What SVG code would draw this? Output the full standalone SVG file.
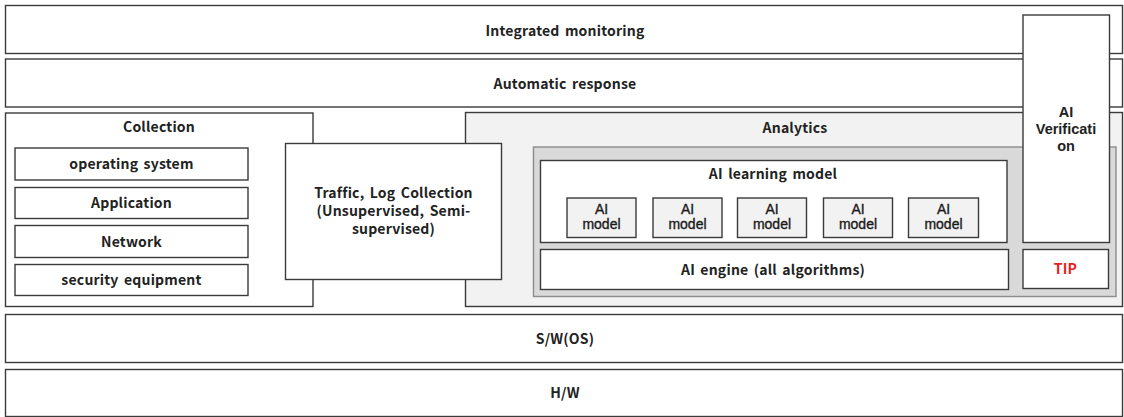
<svg xmlns="http://www.w3.org/2000/svg" width="1124" height="417" viewBox="0 0 1124 417">
  <style>
    .box { fill: #ffffff; stroke: #3a3a3a; stroke-width: 1.4; }
    .shade { fill: #f2f2f2; stroke: #3a3a3a; stroke-width: 1.4; }
    .tray { fill: #d9d9d9; stroke: #8c8c8c; stroke-width: 1.4; }
    .lbl { font-family: "Noto Sans CJK KR", "Noto Sans", "Liberation Sans", sans-serif; font-size: 14px; font-weight: bold; fill: #222222; text-anchor: middle; letter-spacing: 0.2px; word-spacing: 2px; }
    .mdl { font-family: "Liberation Sans", Arial, sans-serif; font-size: 14px; font-weight: normal; fill: #1a1a1a; stroke: #1a1a1a; stroke-width: 0.35; text-anchor: middle; }
    .ver { font-family: "Liberation Sans", Arial, sans-serif; font-size: 14.5px; font-weight: bold; fill: #222222; text-anchor: middle; }
    .red { fill: #e81c1c; }
  </style>
  <rect width="1124" height="417" fill="#ffffff"/>

  <g id="integrated-monitoring">
    <rect class="box" x="5.5" y="5.5" width="1117" height="48"/>
    <text class="lbl" x="565" y="35.5">Integrated monitoring</text>
  </g>

  <g id="automatic-response">
    <rect class="box" x="5.5" y="59" width="1117" height="48"/>
    <text class="lbl" x="565" y="88.5">Automatic response</text>
  </g>

  <g id="collection">
    <rect class="box" x="5.5" y="113" width="307.5" height="193.5"/>
    <text class="lbl" x="159" y="132">Collection</text>
  </g>
  <g id="operating-system">
    <rect class="box" x="15" y="148" width="233" height="32"/>
    <text class="lbl" x="131.5" y="169">operating system</text>
  </g>
  <g id="application">
    <rect class="box" x="15" y="187.5" width="233" height="31"/>
    <text class="lbl" x="131.5" y="208">Application</text>
  </g>
  <g id="network">
    <rect class="box" x="15" y="225.5" width="233" height="32"/>
    <text class="lbl" x="131.5" y="246.5">Network</text>
  </g>
  <g id="security-equipment">
    <rect class="box" x="15" y="264.5" width="233" height="31"/>
    <text class="lbl" x="131.5" y="285">security equipment</text>
  </g>

  <g id="analytics">
    <rect class="shade" x="465.5" y="112.5" width="657" height="194"/>
    <text class="lbl" x="795" y="133">Analytics</text>
  </g>

  <!-- the traffic box straddles Collection and Analytics, so it sits on top -->
  <g id="traffic-log-collection">
    <rect class="box" x="285.5" y="143.5" width="216" height="136"/>
    <text class="lbl" x="393.5" y="198">Traffic, Log Collection</text>
    <text class="lbl" x="393.5" y="216">(Unsupervised, Semi-</text>
    <text class="lbl" x="393.5" y="234">supervised)</text>
  </g>

  <g id="ai-tray">
    <rect class="tray" x="533.5" y="147" width="582.5" height="149.5"/>
  </g>

  <g id="ai-learning-model">
    <rect class="box" x="540.5" y="160.5" width="466.5" height="82"/>
    <text class="lbl" x="773" y="178.5">AI learning model</text>
  </g>
  <g id="ai-model-1">
    <rect class="shade" x="567" y="198" width="69" height="39.5"/>
    <text class="mdl" x="601.5" y="213.5">AI</text>
    <text class="mdl" x="601.5" y="228.5">model</text>
  </g>
  <g id="ai-model-2">
    <rect class="shade" x="653" y="198" width="69" height="39.5"/>
    <text class="mdl" x="687.5" y="213.5">AI</text>
    <text class="mdl" x="687.5" y="228.5">model</text>
  </g>
  <g id="ai-model-3">
    <rect class="shade" x="737.5" y="198" width="69" height="39.5"/>
    <text class="mdl" x="772" y="213.5">AI</text>
    <text class="mdl" x="772" y="228.5">model</text>
  </g>
  <g id="ai-model-4">
    <rect class="shade" x="823.5" y="198" width="69" height="39.5"/>
    <text class="mdl" x="858" y="213.5">AI</text>
    <text class="mdl" x="858" y="228.5">model</text>
  </g>
  <g id="ai-model-5">
    <rect class="shade" x="908.5" y="198" width="70" height="39.5"/>
    <text class="mdl" x="943.5" y="213.5">AI</text>
    <text class="mdl" x="943.5" y="228.5">model</text>
  </g>

  <g id="ai-engine">
    <rect class="box" x="540.5" y="249.5" width="468" height="40"/>
    <text class="lbl" x="773" y="274.5">AI engine (all algorithms)</text>
  </g>

  <g id="ai-verification">
    <rect class="box" x="1023" y="15" width="86.5" height="227.5"/>
    <text class="ver" x="1066" y="117">AI</text>
    <text class="ver" x="1066" y="134">Verificati</text>
    <text class="ver" x="1066" y="151">on</text>
  </g>

  <g id="tip">
    <rect class="box" x="1023" y="249.5" width="85.5" height="39"/>
    <text class="lbl red" x="1065.5" y="274">TIP</text>
  </g>

  <g id="sw-os">
    <rect class="box" x="5.5" y="314.5" width="1117" height="48"/>
    <text class="lbl" x="565" y="344">S/W(OS)</text>
  </g>

  <g id="hw">
    <rect class="box" x="5.5" y="369.5" width="1117" height="47"/>
    <text class="lbl" x="565" y="398">H/W</text>
  </g>

  <g id="connectors"/>
</svg>
